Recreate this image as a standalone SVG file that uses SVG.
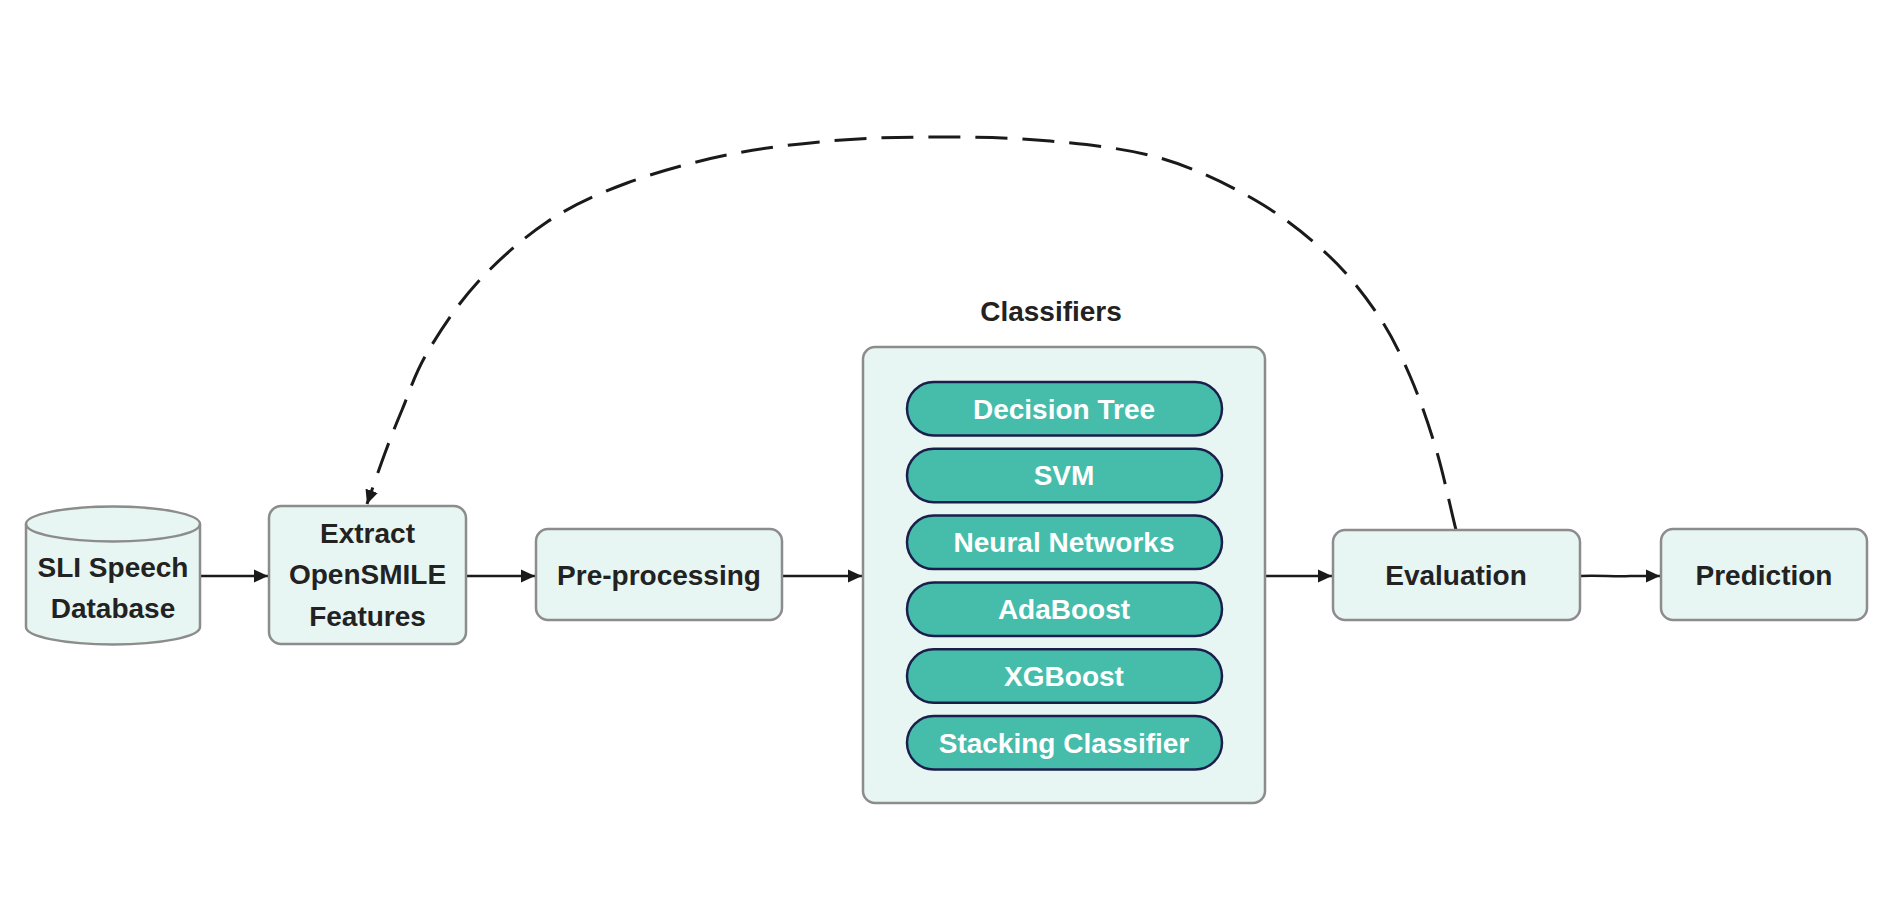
<svg xmlns="http://www.w3.org/2000/svg" width="1902" height="902" viewBox="0 0 1902 902">
<style>
.box{fill:#e7f6f3;stroke:#8c8c8c;stroke-width:2.5}
.pill{fill:#46bcab;stroke:#1b1e4b;stroke-width:2.5}
.lbl{font-family:"Liberation Sans",Arial,sans-serif;font-weight:bold;font-size:28px;fill:#222;text-anchor:middle}
.plbl{font-family:"Liberation Sans",Arial,sans-serif;font-weight:bold;font-size:28px;fill:#fff;text-anchor:middle}
.edge{fill:none;stroke:#1a1a1a;stroke-width:2.5}
.dash{fill:none;stroke:#1a1a1a;stroke-width:3;stroke-dasharray:32 15}
</style>
<defs>
<marker id="arr" markerUnits="userSpaceOnUse" markerWidth="16" markerHeight="14" refX="14" refY="7" orient="auto">
<path d="M0,0.5 L14,7 L0,13.5 z" fill="#1a1a1a"/>
</marker>
</defs>
<rect width="1902" height="902" fill="#fff"/>

<g id="connectors">
<line class="edge" x1="200" y1="576" x2="268" y2="576" marker-end="url(#arr)"/>
<line class="edge" x1="466" y1="576" x2="535" y2="576" marker-end="url(#arr)"/>
<line class="edge" x1="782" y1="576" x2="862" y2="576" marker-end="url(#arr)"/>
<line class="edge" x1="1265" y1="576" x2="1332" y2="576" marker-end="url(#arr)"/>
<path class="edge" d="M1580,576 C1600,575 1615,577 1630,576 L1660,576" marker-end="url(#arr)"/>
<path class="dash" marker-end="url(#arr)" d="M1456,530 C1449.3,503 1443.7,474.7 1436,449 C1428.3,423.3 1419.7,398.3 1410,376 C1400.3,353.7 1391.7,335.2 1378,315 C1364.3,294.8 1348.5,274.2 1328,255 C1307.5,235.8 1283,216.2 1255,200 C1227,183.8 1194.2,167.8 1160,158 C1125.8,148.2 1086.7,144.5 1050,141 C1013.3,137.5 976.2,137.05 940,137 C903.8,136.95 868.5,137.7 833,140.7 C797.5,143.7 761.3,148 727,155 C692.7,162.05 657,171.8 627,183 C597,194.2 572,205.3 547,222 C522,238.7 497,261.2 477,283 C457,304.8 439.5,331.8 427,353 C414.5,374.2 409,393.3 402,410 C395,426.7 390.8,437.3 385,453 C379.2,468.7 373,487 367,504"/>
</g>

<g id="sli-db">
<path class="box" d="M26,524 A87,17.5 0 0 1 200,524 L200,627 A87,17.5 0 0 1 26,627 Z"/>
<path class="box" style="fill:none" d="M26,524 A87,17.5 0 0 0 200,524"/>
<text class="lbl" x="113" y="577">SLI Speech</text>
<text class="lbl" x="113" y="618">Database</text>
</g>

<g id="extract">
<rect class="box" x="269" y="506" width="197" height="138" rx="12"/>
<text class="lbl" x="367.5" y="543">Extract</text>
<text class="lbl" x="367.5" y="584">OpenSMILE</text>
<text class="lbl" x="367.5" y="626">Features</text>
</g>

<g id="preprocessing">
<rect class="box" x="536" y="529" width="246" height="91" rx="12"/>
<text class="lbl" x="659" y="585">Pre-processing</text>
</g>

<g id="classifiers">
<text class="lbl" x="1051" y="321">Classifiers</text>
<rect class="box" x="863" y="347" width="402" height="456" rx="12"/>
<g id="decision-tree">
<rect class="pill" x="907" y="382" width="315" height="53.5" rx="26.75"/>
<text class="plbl" x="1064" y="418.5">Decision Tree</text>
</g>
<g id="svm">
<rect class="pill" x="907" y="448.8" width="315" height="53.5" rx="26.75"/>
<text class="plbl" x="1064" y="485.3">SVM</text>
</g>
<g id="neural-networks">
<rect class="pill" x="907" y="515.6" width="315" height="53.5" rx="26.75"/>
<text class="plbl" x="1064" y="552.1">Neural Networks</text>
</g>
<g id="adaboost">
<rect class="pill" x="907" y="582.4" width="315" height="53.5" rx="26.75"/>
<text class="plbl" x="1064" y="618.9">AdaBoost</text>
</g>
<g id="xgboost">
<rect class="pill" x="907" y="649.2" width="315" height="53.5" rx="26.75"/>
<text class="plbl" x="1064" y="685.7">XGBoost</text>
</g>
<g id="stacking">
<rect class="pill" x="907" y="716" width="315" height="53.5" rx="26.75"/>
<text class="plbl" x="1064" y="752.5">Stacking Classifier</text>
</g>
</g>

<g id="evaluation">
<rect class="box" x="1333" y="530" width="247" height="90" rx="12"/>
<text class="lbl" x="1456" y="585">Evaluation</text>
</g>

<g id="prediction">
<rect class="box" x="1661" y="529" width="206" height="91" rx="12"/>
<text class="lbl" x="1764" y="585">Prediction</text>
</g>
</svg>
